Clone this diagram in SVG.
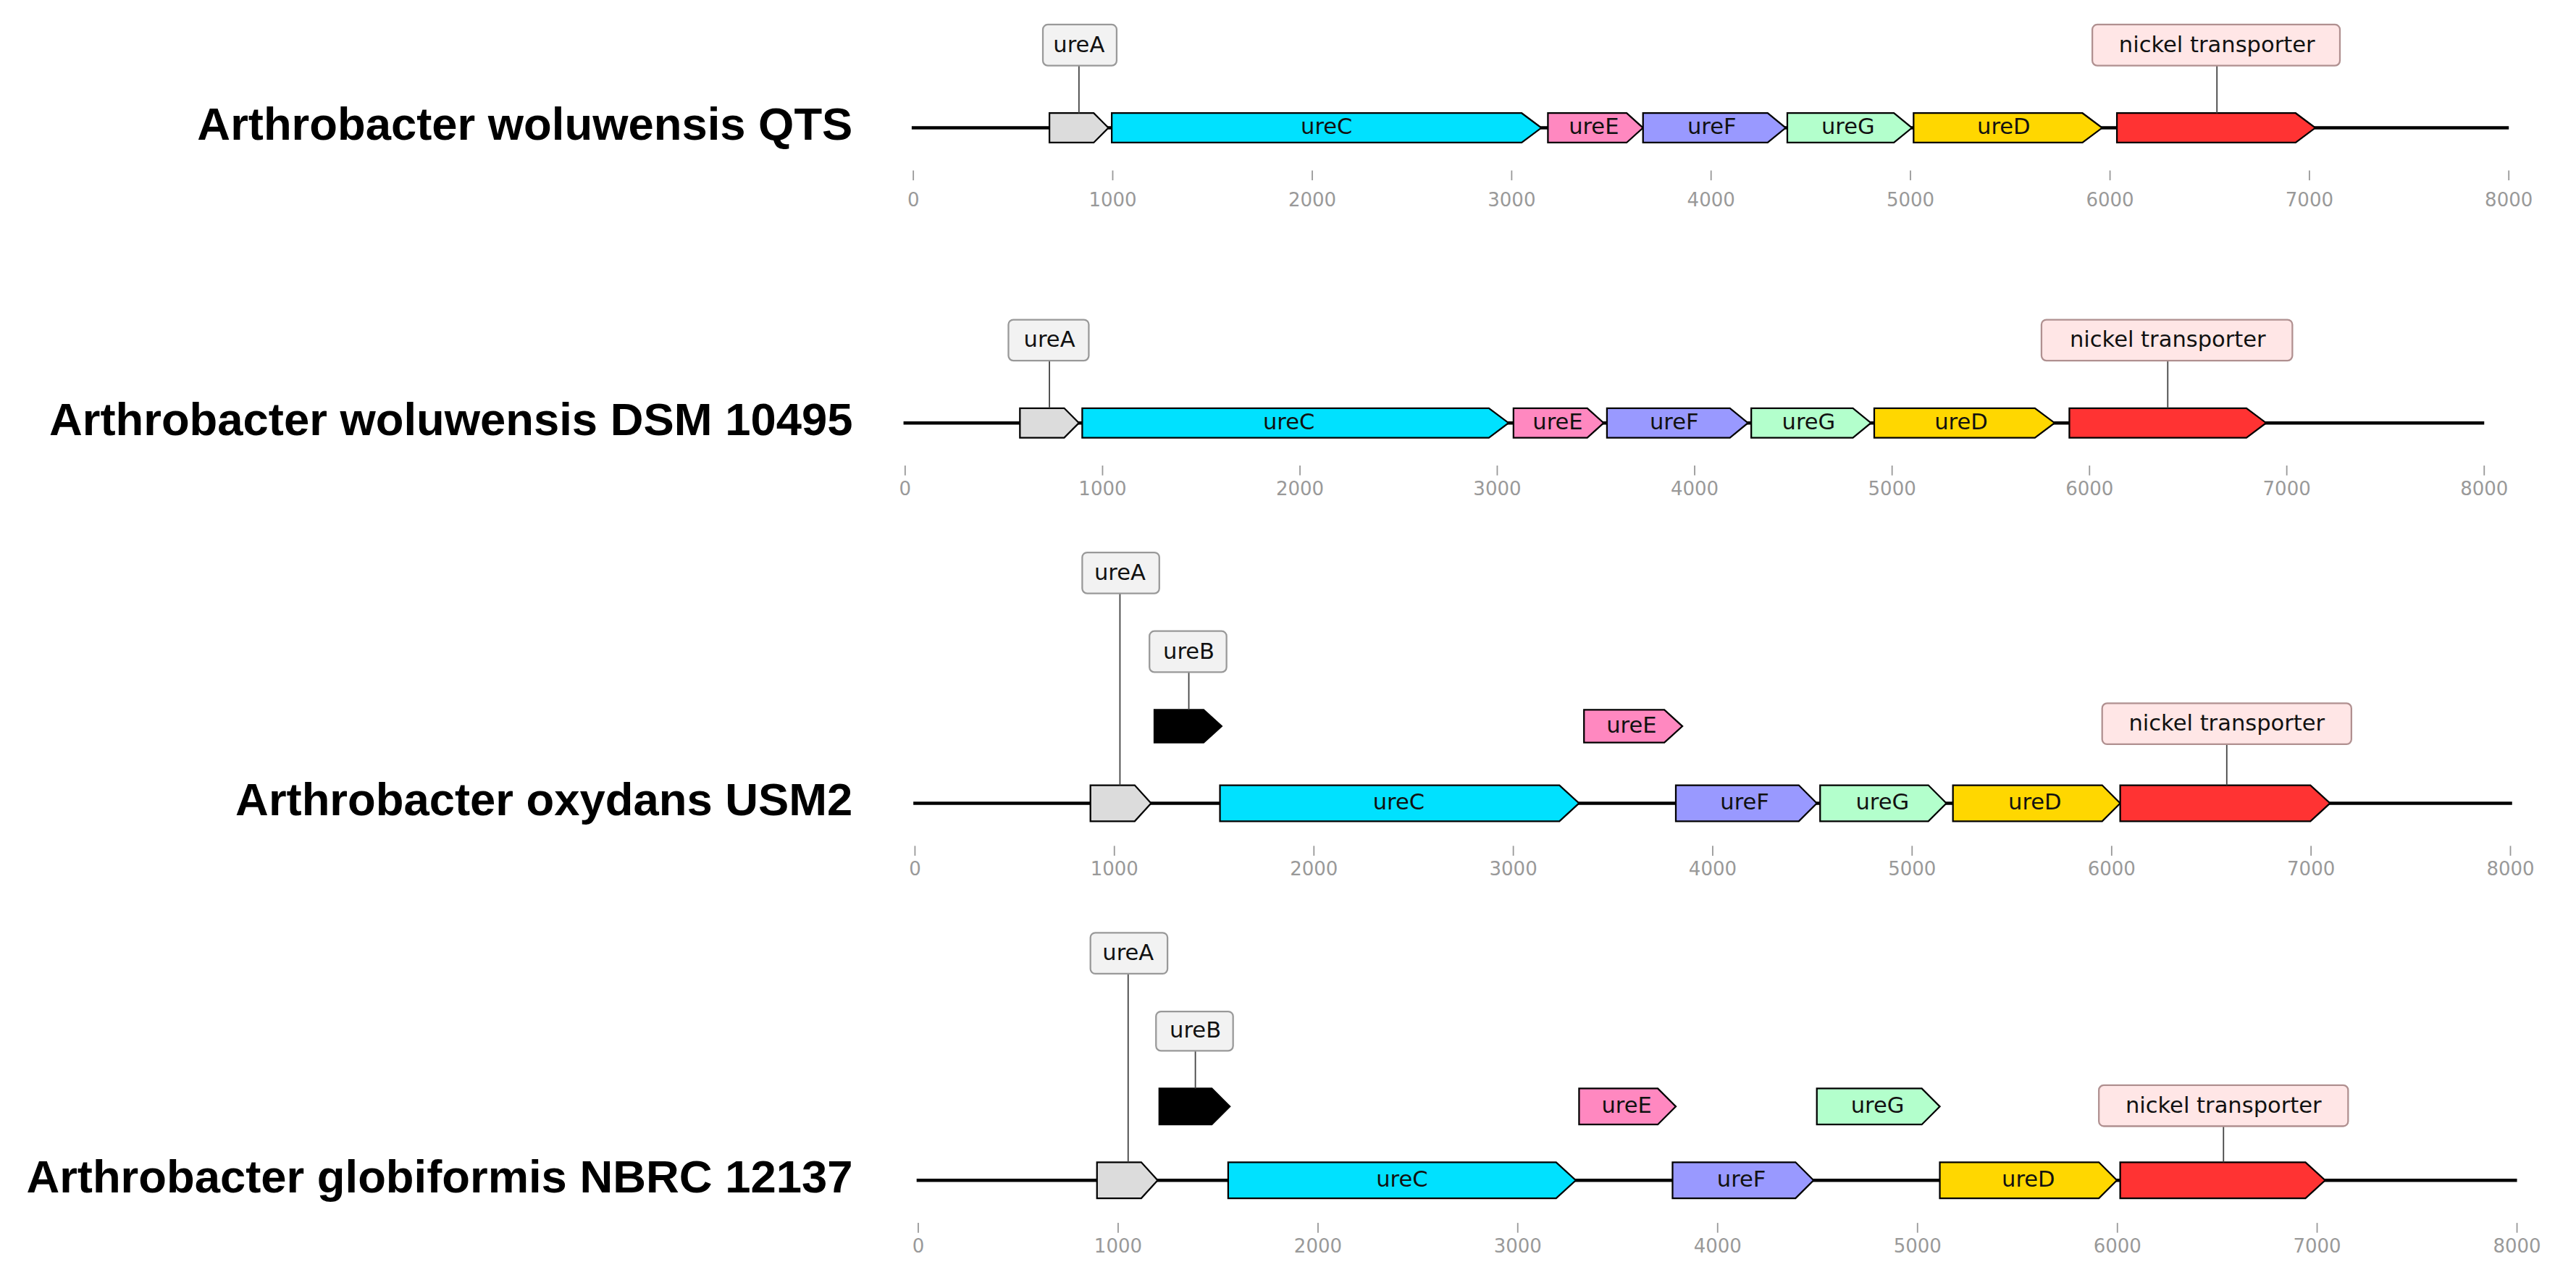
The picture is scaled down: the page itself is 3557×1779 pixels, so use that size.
<svg xmlns="http://www.w3.org/2000/svg" width="3557" height="1779" viewBox="0 0 3557 1779">
<style>
.t{font-family:"Liberation Sans",Arial,sans-serif;font-weight:bold;font-size:28px;text-anchor:end;dominant-baseline:middle}
.g{stroke:#000;stroke-width:1}
.gl{font-family:"DejaVu Sans",sans-serif;font-size:13.5px;text-anchor:middle;dominant-baseline:middle;fill:#111}
.ax{font-family:"DejaVu Sans",sans-serif;font-size:11.5px;text-anchor:middle;fill:#999}
.tk{stroke:#999;stroke-width:0.8}
.bb{stroke:#000;stroke-width:2}
.lb{fill:#f2f2f2;stroke:#999;stroke-width:1}
.ln{fill:#ffe6e6;stroke:#b09090;stroke-width:1}
.cl{stroke:#444;stroke-width:0.8}
</style>
<rect width="3557" height="1779" fill="#fff"/>
<g transform="scale(2.2642)">
<g id="row1">
<text class="t" x="520" y="78">Arthrobacter woluwensis QTS</text>
<line class="bb" x1="556" y1="78" x2="1530" y2="78"/>
<polygon class="g" fill="#dcdcdc" points="640,69 667,69 676,78 667,87 640,87"/>
<polygon class="g" fill="#00e1ff" points="678,69 928,69 940,78 928,87 678,87"/>
<polygon class="g" fill="#ff88c0" points="944,69 992,69 1002,78 992,87 944,87"/>
<polygon class="g" fill="#9999ff" points="1002,69 1078,69 1089,78 1078,87 1002,87"/>
<polygon class="g" fill="#b3ffcc" points="1090,69 1155,69 1166,78 1155,87 1090,87"/>
<polygon class="g" fill="#ffd700" points="1167,69 1270,69 1282,78 1270,87 1167,87"/>
<polygon class="g" fill="#ff3333" points="1291,69 1400,69 1412,78 1400,87 1291,87"/>
<text class="gl" x="809" y="78">ureC</text><text class="gl" x="972" y="78">ureE</text><text class="gl" x="1044" y="78">ureF</text><text class="gl" x="1127" y="78">ureG</text><text class="gl" x="1222" y="78">ureD</text>
<line class="cl" x1="658" y1="40" x2="658" y2="69"/><rect class="lb" x="636" y="15" width="45" height="25" rx="3"/><text class="gl" x="658" y="28">ureA</text>
<line class="cl" x1="1352" y1="40" x2="1352" y2="69"/><rect class="ln" x="1276" y="15" width="151" height="25" rx="3"/><text class="gl" x="1352" y="28">nickel transporter</text>
<g>
<line class="tk" x1="557" y1="104" x2="557" y2="110"/><text class="ax" x="557" y="126">0</text>
<line class="tk" x1="678.6" y1="104" x2="678.6" y2="110"/><text class="ax" x="678.6" y="126">1000</text>
<line class="tk" x1="800.3" y1="104" x2="800.3" y2="110"/><text class="ax" x="800.3" y="126">2000</text>
<line class="tk" x1="921.9" y1="104" x2="921.9" y2="110"/><text class="ax" x="921.9" y="126">3000</text>
<line class="tk" x1="1043.5" y1="104" x2="1043.5" y2="110"/><text class="ax" x="1043.5" y="126">4000</text>
<line class="tk" x1="1165.1" y1="104" x2="1165.1" y2="110"/><text class="ax" x="1165.1" y="126">5000</text>
<line class="tk" x1="1286.8" y1="104" x2="1286.8" y2="110"/><text class="ax" x="1286.8" y="126">6000</text>
<line class="tk" x1="1408.4" y1="104" x2="1408.4" y2="110"/><text class="ax" x="1408.4" y="126">7000</text>
<line class="tk" x1="1530" y1="104" x2="1530" y2="110"/><text class="ax" x="1530" y="126">8000</text>
</g>
</g>
<g id="row2">
<text class="t" x="520" y="258">Arthrobacter woluwensis DSM 10495</text>
<line class="bb" x1="551" y1="258" x2="1515" y2="258"/>
<polygon class="g" fill="#dcdcdc" points="622,249 649,249 658,258 649,267 622,267"/>
<polygon class="g" fill="#00e1ff" points="660,249 908,249 920,258 908,267 660,267"/>
<polygon class="g" fill="#ff88c0" points="923,249 968,249 978,258 968,267 923,267"/>
<polygon class="g" fill="#9999ff" points="980,249 1055,249 1066,258 1055,267 980,267"/>
<polygon class="g" fill="#b3ffcc" points="1068,249 1130,249 1141,258 1130,267 1068,267"/>
<polygon class="g" fill="#ffd700" points="1143,249 1241,249 1253,258 1241,267 1143,267"/>
<polygon class="g" fill="#ff3333" points="1262,249 1370,249 1382,258 1370,267 1262,267"/>
<text class="gl" x="786" y="258">ureC</text><text class="gl" x="950" y="258">ureE</text><text class="gl" x="1021" y="258">ureF</text><text class="gl" x="1103" y="258">ureG</text><text class="gl" x="1196" y="258">ureD</text>
<line class="cl" x1="640" y1="220" x2="640" y2="249"/><rect class="lb" x="615" y="195" width="49" height="25" rx="3"/><text class="gl" x="640" y="208">ureA</text>
<line class="cl" x1="1322" y1="220" x2="1322" y2="249"/><rect class="ln" x="1245" y="195" width="153" height="25" rx="3"/><text class="gl" x="1322" y="208">nickel transporter</text>
<g>
<line class="tk" x1="552" y1="284" x2="552" y2="290"/><text class="ax" x="552" y="302">0</text>
<line class="tk" x1="672.4" y1="284" x2="672.4" y2="290"/><text class="ax" x="672.4" y="302">1000</text>
<line class="tk" x1="792.8" y1="284" x2="792.8" y2="290"/><text class="ax" x="792.8" y="302">2000</text>
<line class="tk" x1="913.1" y1="284" x2="913.1" y2="290"/><text class="ax" x="913.1" y="302">3000</text>
<line class="tk" x1="1033.5" y1="284" x2="1033.5" y2="290"/><text class="ax" x="1033.5" y="302">4000</text>
<line class="tk" x1="1153.9" y1="284" x2="1153.9" y2="290"/><text class="ax" x="1153.9" y="302">5000</text>
<line class="tk" x1="1274.3" y1="284" x2="1274.3" y2="290"/><text class="ax" x="1274.3" y="302">6000</text>
<line class="tk" x1="1394.6" y1="284" x2="1394.6" y2="290"/><text class="ax" x="1394.6" y="302">7000</text>
<line class="tk" x1="1515" y1="284" x2="1515" y2="290"/><text class="ax" x="1515" y="302">8000</text>
</g>
</g>
<g id="row3">
<text class="t" x="520" y="490">Arthrobacter oxydans USM2</text>
<line class="bb" x1="557" y1="490" x2="1532" y2="490"/>
<polygon class="g" fill="#dcdcdc" points="665,479 692,479 702,490 692,501 665,501"/>
<polygon class="g" fill="#00e1ff" points="744,479 951,479 963,490 951,501 744,501"/>
<polygon class="g" fill="#9999ff" points="1022,479 1097,479 1108,490 1097,501 1022,501"/>
<polygon class="g" fill="#b3ffcc" points="1110,479 1176,479 1187,490 1176,501 1110,501"/>
<polygon class="g" fill="#ffd700" points="1191,479 1282,479 1293,490 1282,501 1191,501"/>
<polygon class="g" fill="#ff3333" points="1293,479 1409,479 1421,490 1409,501 1293,501"/>
<polygon class="g" fill="#000" points="704,433 734,433 745,443 734,453 704,453"/>
<polygon class="g" fill="#ff88c0" points="966,433 1015,433 1026,443 1015,453 966,453"/>
<text class="gl" x="853" y="490">ureC</text><text class="gl" x="995" y="443">ureE</text><text class="gl" x="1064" y="490">ureF</text><text class="gl" x="1148" y="490">ureG</text><text class="gl" x="1241" y="490">ureD</text>
<line class="cl" x1="683" y1="362" x2="683" y2="479"/><rect class="lb" x="660" y="337" width="47" height="25" rx="3"/><text class="gl" x="683" y="350">ureA</text>
<line class="cl" x1="725" y1="410" x2="725" y2="433"/><rect class="lb" x="701" y="385" width="47" height="25" rx="3"/><text class="gl" x="725" y="398">ureB</text>
<line class="cl" x1="1358" y1="454" x2="1358" y2="479"/><rect class="ln" x="1282" y="429" width="152" height="25" rx="3"/><text class="gl" x="1358" y="442">nickel transporter</text>
<g>
<line class="tk" x1="558" y1="516" x2="558" y2="522"/><text class="ax" x="558" y="534">0</text>
<line class="tk" x1="679.6" y1="516" x2="679.6" y2="522"/><text class="ax" x="679.6" y="534">1000</text>
<line class="tk" x1="801.3" y1="516" x2="801.3" y2="522"/><text class="ax" x="801.3" y="534">2000</text>
<line class="tk" x1="922.9" y1="516" x2="922.9" y2="522"/><text class="ax" x="922.9" y="534">3000</text>
<line class="tk" x1="1044.5" y1="516" x2="1044.5" y2="522"/><text class="ax" x="1044.5" y="534">4000</text>
<line class="tk" x1="1166.1" y1="516" x2="1166.1" y2="522"/><text class="ax" x="1166.1" y="534">5000</text>
<line class="tk" x1="1287.8" y1="516" x2="1287.8" y2="522"/><text class="ax" x="1287.8" y="534">6000</text>
<line class="tk" x1="1409.4" y1="516" x2="1409.4" y2="522"/><text class="ax" x="1409.4" y="534">7000</text>
<line class="tk" x1="1531" y1="516" x2="1531" y2="522"/><text class="ax" x="1531" y="534">8000</text>
</g>
</g>
<g id="row4">
<text class="t" x="520" y="720">Arthrobacter globiformis NBRC 12137</text>
<line class="bb" x1="559" y1="720" x2="1535" y2="720"/>
<polygon class="g" fill="#dcdcdc" points="669,709 696,709 706,720 696,731 669,731"/>
<polygon class="g" fill="#00e1ff" points="749,709 949,709 961,720 949,731 749,731"/>
<polygon class="g" fill="#9999ff" points="1020,709 1095,709 1106,720 1095,731 1020,731"/>
<polygon class="g" fill="#ffd700" points="1183,709 1280,709 1291,720 1280,731 1183,731"/>
<polygon class="g" fill="#ff3333" points="1293,709 1406,709 1418,720 1406,731 1293,731"/>
<polygon class="g" fill="#000" points="707,664 739,664 750,675 739,686 707,686"/>
<polygon class="g" fill="#ff88c0" points="963,664 1011,664 1022,675 1011,686 963,686"/>
<polygon class="g" fill="#b3ffcc" points="1108,664 1172,664 1183,675 1172,686 1108,686"/>
<text class="gl" x="855" y="720">ureC</text><text class="gl" x="992" y="675">ureE</text><text class="gl" x="1062" y="720">ureF</text><text class="gl" x="1145" y="675">ureG</text><text class="gl" x="1237" y="720">ureD</text>
<line class="cl" x1="688" y1="594" x2="688" y2="709"/><rect class="lb" x="665" y="569" width="47" height="25" rx="3"/><text class="gl" x="688" y="582">ureA</text>
<line class="cl" x1="729" y1="641" x2="729" y2="664"/><rect class="lb" x="705" y="617" width="47" height="24" rx="3"/><text class="gl" x="729" y="629">ureB</text>
<line class="cl" x1="1356" y1="687" x2="1356" y2="709"/><rect class="ln" x="1280" y="662" width="152" height="25" rx="3"/><text class="gl" x="1356" y="675">nickel transporter</text>
<g>
<line class="tk" x1="560" y1="746" x2="560" y2="752"/><text class="ax" x="560" y="764">0</text>
<line class="tk" x1="681.9" y1="746" x2="681.9" y2="752"/><text class="ax" x="681.9" y="764">1000</text>
<line class="tk" x1="803.8" y1="746" x2="803.8" y2="752"/><text class="ax" x="803.8" y="764">2000</text>
<line class="tk" x1="925.6" y1="746" x2="925.6" y2="752"/><text class="ax" x="925.6" y="764">3000</text>
<line class="tk" x1="1047.5" y1="746" x2="1047.5" y2="752"/><text class="ax" x="1047.5" y="764">4000</text>
<line class="tk" x1="1169.4" y1="746" x2="1169.4" y2="752"/><text class="ax" x="1169.4" y="764">5000</text>
<line class="tk" x1="1291.3" y1="746" x2="1291.3" y2="752"/><text class="ax" x="1291.3" y="764">6000</text>
<line class="tk" x1="1413.1" y1="746" x2="1413.1" y2="752"/><text class="ax" x="1413.1" y="764">7000</text>
<line class="tk" x1="1535" y1="746" x2="1535" y2="752"/><text class="ax" x="1535" y="764">8000</text>
</g>
</g>
</g>
</svg>
